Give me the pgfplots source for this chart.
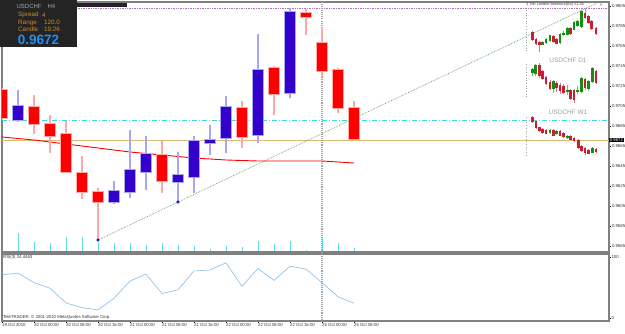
\documentclass[border=0pt]{standalone}
\usepackage{pgfplots}
\pgfplotsset{compat=1.18}
\usepackage{pgfplotstable}
\usepackage{fontspec}
\setmainfont{Liberation Sans}
\definecolor{bullc}{HTML}{3300CC}
\definecolor{bearc}{HTML}{FF0000}
\definecolor{bullw}{HTML}{A8A8F0}
\definecolor{bearw}{HTML}{FFA8A8}
\definecolor{framec}{HTML}{808080}
\definecolor{volc}{HTML}{60DCE8}
\definecolor{cyanl}{HTML}{40D8E0}
\definecolor{tanl}{HTML}{E0B878}
\definecolor{rsic}{HTML}{84BCF0}
\definecolor{trendc}{HTML}{60A060}
\definecolor{purp}{HTML}{B070C0}
\definecolor{boxbg}{HTML}{242424}
\definecolor{boxor}{HTML}{D08A2A}
\definecolor{boxbl}{HTML}{2090F0}
\definecolor{minig}{HTML}{109010}
\definecolor{minir}{HTML}{C82030}
\definecolor{minil}{HTML}{A0A0A0}

% main H4 candles
\pgfplotstableread{
k O H L C
1 0.9691 0.9721 0.9689 0.9705
7 0.9609 0.9630 0.9607 0.9620
8 0.9619 0.9681 0.9613 0.9641
9 0.9639 0.9675 0.9621 0.9657
11 0.9629 0.9659 0.9609 0.9636
12 0.9634 0.9675 0.9618 0.9670
13 0.9668 0.9686 0.9656 0.9671
14 0.9673 0.9715 0.9658 0.9704
16 0.9676 0.9777 0.9668 0.9741
18 0.9718 0.9803 0.9713 0.9799
}\bull
\pgfplotstableread{
k O H L C
0 0.9721 0.9723 0.9691 0.9693
2 0.9704 0.9716 0.9677 0.9687
3 0.9687 0.9696 0.9658 0.9675
4 0.9677 0.9690 0.9638 0.9639
5 0.9638 0.9655 0.9612 0.9619
6 0.9619 0.9623 0.9571 0.9609
10 0.9656 0.9670 0.9618 0.9630
15 0.9703 0.9710 0.9663 0.9674
17 0.9743 0.9745 0.9696 0.9717
19 0.9798 0.9802 0.9776 0.9794
20 0.9768 0.9784 0.9734 0.9740
21 0.9741 0.9743 0.9698 0.9703
22 0.9703 0.9710 0.9671 0.9672
}\bear
\pgfplotstableread{
k ma vol rsi
0 0.9674 30 71.5
1 0.96725 19 74.1
2 0.9671 10 58.5
3 0.9669 9 49.2
4 0.9667 15 24.9
5 0.9665 15 17.1
6 0.9663 10 13.5
7 0.9661 9 32.6
8 0.9659 9 61.1
9 0.96575 7 72.5
10 0.9656 9 40.4
11 0.96545 7 46.6
12 0.9653 6 77.7
13 0.9652 3 79.3
14 0.9651 6 91.2
15 0.96505 5 52.3
16 0.9650 11 81.9
17 0.9650 8 62.2
18 0.9650 11 85.5
19 0.9650 2 80.8
20 0.9650 15 58.5
21 0.9649 9 35.2
22 0.9648 4 24.4463
}\ind
% mini charts (pixel units)
\pgfplotstableread{
x O C H L
542.7 -44.3 -42.7 -41.5 -45.5
546 -42.7 -39.3 -38 -44
550 -40.7 -36 -35 -42
560 -42.7 -34.3 -33 -44
563.3 -35 -33.3 -31 -36.5
567.3 -34.3 -28.3 -27 -35.5
574 -29.3 -22.7 -21 -30.5
577.3 -26 -21.7 -20 -27.5
581.7 -26.7 -11.7 -10.5 -28
532.3 -72.7 -70 -68 -76
535.7 -73.3 -65 -64 -76
553.3 -88.3 -81.7 -80 -93
567.3 -91.7 -90 -85 -95
577.3 -91 -90 -86 -94
581.7 -91.7 -78.3 -77 -93
588.3 -88.3 -81.7 -80 -91
592.3 -81.7 -68.3 -67 -83
550 -132.7 -130.7 -129.5 -134
556.7 -134 -131.7 -130.5 -135.5
567.3 -137.7 -136 -135 -139
592.3 -152.7 -148.3 -147.5 -153.5
}\minibull
\pgfplotstableread{
x O C H L
532.3 -32.3 -39.3 -31 -41
536 -39.3 -43.3 -38 -45
539.3 -42.3 -45 -41 -51.7
553.3 -36.7 -41.7 -35 -43
556.7 -40 -43.3 -38.5 -44.5
570.7 -28.3 -34 -27 -35.5
585 -13.3 -17.3 -9.5 -19
588.3 -16.7 -22.7 -15 -24
591.7 -21.7 -28.3 -20 -30
596 -28.3 -33.3 -27 -35
539.3 -65 -75 -63 -78
542.7 -71.7 -78.3 -70 -80
546 -77.3 -83.3 -76 -85
550 -82.7 -88.3 -80 -90
556.7 -83.3 -87.3 -81 -92
560 -85 -90.7 -83 -94
563.3 -86 -92.7 -84 -94
570.7 -90.7 -98.3 -89 -100
574 -90.7 -99.3 -89 -103
585 -79.3 -87.3 -78 -90
596 -71 -82.7 -70 -84
532.3 -117.3 -121.7 -116 -123
536 -121.7 -127.3 -121 -128.5
539.3 -127.3 -130.7 -126.5 -131.5
542.7 -129.3 -132.7 -128 -134
546 -130 -133.3 -129 -134.5
553.3 -130 -135 -129 -136
560 -131.7 -135 -130.5 -136.5
563.3 -133.3 -136.7 -132 -138
570.7 -136.7 -139.3 -135.5 -140.5
574 -138.3 -140.7 -137 -142
578.3 -140.7 -147.7 -139.5 -149
581.7 -146.7 -150.7 -145.5 -152
585 -148.3 -152.7 -147 -155
588.3 -150 -153.3 -149 -154.5
596 -149.3 -151.7 -148 -153
}\minibear

\pgfplotsset{
  wick/.style 2 args={draw=none, mark=none,
    error bars/.cd, y dir=both, y explicit, error mark=none,
    error bar style={draw=#1, line width=#2, solid}},
}

\begin{document}
\begin{tikzpicture}[x=1pt,y=1pt]
\path[use as bounding box, fill=white] (0,0) rectangle (625,333);

% ---------------- volume (drawn first, behind) ----------------
\begin{axis}[
  at={(2pt,81pt)}, anchor=south west, scale only axis,
  width=607pt, height=250pt,
  xmin=0, xmax=37.94, ymin=0, ymax=250,
  hide axis,
]
\addplot[ycomb, color=volc, line width=0.8pt, mark=none] table[x=k, y=vol] {\ind};
\end{axis}

% ---------------- main H4 panel ----------------
\begin{axis}[
  at={(2pt,81pt)}, anchor=south west, scale only axis,
  width=607pt, height=250pt,
  xmin=0, xmax=37.94, ymin=0.9559, ymax=0.9809,
  clip mode=individual,
  axis line style={framec, line width=1.1pt},
  xtick=\empty,
  ytick={0.9565,0.9585,0.9605,0.9625,0.9645,0.9665,0.9685,0.9705,0.9725,0.9745,0.9765,0.9785,0.9805},
  yticklabels={0.9565,0.9585,0.9605,0.9625,0.9645,0.9665,0.9685,0.9705,0.9725,0.9745,0.9765,0.9785,0.9805},
  ytick pos=right, yticklabel pos=right,
  tick align=outside, major tick length=2pt,
  tick style={black, line width=0.4pt},
  yticklabel style={font=\fontsize{4.3}{5}\selectfont, inner sep=0.8pt, text=black!80},
]
% horizontal lines
\addplot[cyanl, line width=0.8pt, dash pattern=on 5pt off 2pt on 1pt off 2pt] coordinates {(0,0.9691) (38,0.9691)};
\addplot[tanl, line width=0.9pt] coordinates {(0,0.9671) (38,0.9671)};
\addplot[purp, line width=0.7pt, densely dotted] coordinates {(4.72,0.9803) (38,0.9803)};
\addplot[framec!70, line width=1.1pt, densely dotted] coordinates {(20,0.9550) (20,0.9820)};
% trend line
\addplot[trendc, line width=0.7pt, densely dotted] coordinates {(6,0.9571) (38,0.98142)};
% moving average
\addplot[bearc, line width=0.9pt] table[x=k, y=ma] {\ind};
% wicks
\addplot[wick={bullw}{1.3pt}] table[x=k, y expr=(\thisrow{H}+\thisrow{L})/2, y error expr=(\thisrow{H}-\thisrow{L})/2] {\bull};
\addplot[wick={bearw}{1.3pt}] table[x=k, y expr=(\thisrow{H}+\thisrow{L})/2, y error expr=(\thisrow{H}-\thisrow{L})/2] {\bear};
% bodies
\addplot[wick={bullw}{12.5pt}] table[x=k, y expr=(\thisrow{O}+\thisrow{C})/2, y error expr=abs(\thisrow{O}-\thisrow{C})/2+0.0001] {\bull};
\addplot[wick={bearw}{12.5pt}] table[x=k, y expr=(\thisrow{O}+\thisrow{C})/2, y error expr=abs(\thisrow{O}-\thisrow{C})/2+0.0001] {\bear};
\addplot[wick={bullc}{10.5pt}] table[x=k, y expr=(\thisrow{O}+\thisrow{C})/2, y error expr=abs(\thisrow{O}-\thisrow{C})/2] {\bull};
\addplot[wick={bearc}{10.5pt}] table[x=k, y expr=(\thisrow{O}+\thisrow{C})/2, y error expr=abs(\thisrow{O}-\thisrow{C})/2] {\bear};
% low points of trend line
\addplot[only marks, mark=*, mark size=1.3pt, color=bullc] coordinates {(6,0.9571) (11,0.9609)};
% current price tag
\node[fill=black, text=white, anchor=west, inner sep=0.6pt, font=\fontsize{4.3}{5}\selectfont] at (axis cs:37.94,0.9671) {0.9672};
\end{axis}

% ---------------- mini charts (right top) ----------------
\begin{axis}[
  at={(520pt,173pt)}, anchor=south west, scale only axis,
  width=89pt, height=160pt,
  xmin=520, xmax=609, ymin=-160, ymax=0,
  hide axis, clip mode=individual,
]
\addplot[minil, line width=0.7pt, dotted] coordinates {(526,-10) (526,-52)};
\addplot[minil, line width=0.7pt, dotted] coordinates {(526,-64) (526,-98)};
\addplot[minil, line width=0.7pt, dotted] coordinates {(526,-117) (526,-157)};
\addplot[wick={minig!60}{0.6pt}] table[x=x, y expr=(\thisrow{H}+\thisrow{L})/2, y error expr=(\thisrow{H}-\thisrow{L})/2] {\minibull};
\addplot[wick={minir!60}{0.6pt}] table[x=x, y expr=(\thisrow{H}+\thisrow{L})/2, y error expr=(\thisrow{H}-\thisrow{L})/2] {\minibear};
\addplot[wick={minig}{2.6pt}] table[x=x, y expr=(\thisrow{O}+\thisrow{C})/2, y error expr=abs(\thisrow{O}-\thisrow{C})/2+0.5] {\minibull};
\addplot[wick={minir}{2.6pt}] table[x=x, y expr=(\thisrow{O}+\thisrow{C})/2, y error expr=abs(\thisrow{O}-\thisrow{C})/2+0.5] {\minibear};
\node[text=minil, font=\fontsize{6.5}{7}\selectfont] at (axis cs:568,-60) {USDCHF D1};
\node[text=minil, font=\fontsize{6.5}{7}\selectfont] at (axis cs:568,-112) {USDCHF W1};
\node[text=black!75, font=\fontsize{3.8}{4}\selectfont, anchor=west, inner sep=0pt] at (axis cs:526,-5) {3 Tier London Breakout(BA) v1.3b};
\node[text=black!75, font=\fontsize{4.5}{5}\selectfont, inner sep=0pt] at (axis cs:601,-5) {×};
\end{axis}

% ---------------- RSI panel ----------------
\begin{axis}[
  at={(2pt,12pt)}, anchor=south west, scale only axis,
  width=607pt, height=67pt,
  xmin=0, xmax=37.94, ymin=-4.9, ymax=105.7,
  clip mode=individual,
  axis line style={framec, line width=1.1pt},
  ytick={0,100}, yticklabels={0,100},
  ytick pos=right, yticklabel pos=right,
  xtick={0,2,4,6,8,10,12,14,16,18,20,22},
  xticklabels={19 Oct 2010,20 Oct 00:00,20 Oct 08:00,20 Oct 16:00,21 Oct 00:00,21 Oct 08:00,21 Oct 16:00,22 Oct 00:00,22 Oct 08:00,22 Oct 16:00,25 Oct 00:00,25 Oct 08:00},
  xtick pos=bottom,
  tick align=outside, major tick length=1.5pt,
  tick style={black, line width=0.4pt},
  xticklabel style={font=\fontsize{4.3}{5}\selectfont, anchor=north west, inner sep=0.5pt, xshift=-0.5pt, yshift=-0.5pt, text=black!80},
  yticklabel style={font=\fontsize{4.3}{5}\selectfont, inner sep=0.8pt, text=black!80},
]
\addplot[framec!70, line width=1.1pt, densely dotted] coordinates {(20,-10) (20,110)};
\addplot[rsic, line width=0.6pt, mark=none] table[x=k, y=rsi] {\ind};
\node[anchor=north west, inner sep=1pt, font=\fontsize{4.3}{5}\selectfont, text=black!80] at (rel axis cs:0,1) {RSI(3) 24.4463};
\node[anchor=south west, inner sep=1pt, font=\fontsize{4.3}{5}\selectfont, text=black!80] at (rel axis cs:0,0) {TeleTRADER, © 2001-2010 MetaQuotes Software Corp.};
\end{axis}

% ---------------- info box (top left) ----------------
\fill[boxbg] (0,286) rectangle (77,333);
\fill[boxbg] (77,326) rectangle (127,330);
\node[text=black!35, font=\fontsize{6}{7}\selectfont] at (36,327) {USDCHF\hspace{6pt}H4};
\node[text=boxor, anchor=west, inner sep=0pt, font=\fontsize{6.3}{7}\selectfont] at (18,318) {Spread};
\node[text=boxor, anchor=west, inner sep=0pt, font=\fontsize{6.3}{7}\selectfont] at (42,318) {4};
\node[text=boxor, anchor=west, inner sep=0pt, font=\fontsize{6.3}{7}\selectfont] at (18,310.5) {Range};
\node[text=boxor, anchor=west, inner sep=0pt, font=\fontsize{6.3}{7}\selectfont] at (44,310.5) {120.0};
\node[text=boxor, anchor=west, inner sep=0pt, font=\fontsize{6.3}{7}\selectfont] at (18,303.5) {Candle};
\node[text=boxor, anchor=west, inner sep=0pt, font=\fontsize{6.3}{7}\selectfont] at (44,303.5) {19:26};
\node[text=boxbl, font=\bfseries\fontsize{13.5}{14}\selectfont, inner sep=0pt] at (38.5,293.5) {0.9672};
\end{tikzpicture}
\end{document}
